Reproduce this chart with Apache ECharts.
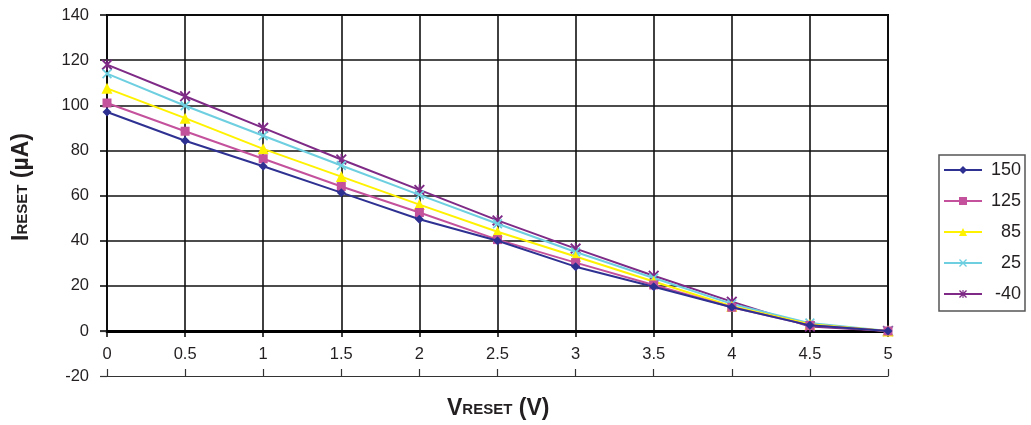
<!DOCTYPE html>
<html>
<head>
<meta charset="utf-8">
<script src="https://cdn.jsdelivr.net/npm/echarts@6/dist/echarts.min.js"></script>
<style>
  html, body { margin: 0; padding: 0; background: #fff; }
  #chart { width: 1031px; height: 425px; }
</style>
</head>
<body>
<div id="chart"></div>
<script>
// ---- data ----
const vReset = [0, 0.5, 1, 1.5, 2, 2.5, 3, 3.5, 4, 4.5, 5];
const seriesNames = ['150', '125', '85', '25', '-40'];
const i150 = [97, 84.3, 73, 61.3, 49.5, 40, 28.5, 19.6, 10.5, 2.5, 0];
const i125 = [101, 88.5, 76.3, 64, 52.5, 40.5, 30.3, 20.4, 10.5, 2.5, 0];
const i85 = [107.5, 94.3, 80.7, 68.4, 56, 44, 33, 21.9, 11, 3, 0];
const i25 = [114, 99.8, 86.5, 73.3, 60.3, 47.5, 35, 23.5, 12, 3.5, 0];
const iM40 = [118, 104, 90, 76, 62.5, 49, 36.5, 24.5, 13, 2, 0];
const seriesValues = [i150, i125, i85, i25, iM40];
const yTicksTop = [0, 140, 20];
const yTicksBottom = [-20, 0, 20];

// ---- styles ----
const FONT = 'Arial, "Liberation Sans", sans-serif';
const TXT = '#231f20';
const colors = ['#2e3192', '#c4519c', '#fff200', '#6dcfe0', '#7e2a86'];
const X_PATH = 'path://M0,1.2 L1.2,0 L5,3.8 L8.8,0 L10,1.2 L6.2,5 L10,8.8 L8.8,10 L5,6.2 L1.2,10 L0,8.8 L3.8,5 Z';
const AST_PATH = 'path://M0,1.2 L1.2,0 L5,3.8 L8.8,0 L10,1.2 L6.2,5 L10,8.8 L8.8,10 L5,6.2 L1.2,10 L0,8.8 L3.8,5 Z M4.3,0 L5.7,0 L5.7,10 L4.3,10 Z';
const symbols = ['diamond', 'rect', 'triangle', X_PATH, AST_PATH];
const symSizes = [9, 9, 11, 10, 11];

function pairs(vals) { return vReset.map((x, i) => [x, vals[i]]); }

const chart = echarts.init(document.getElementById('chart'), null, { renderer: 'canvas' });

const titleRich = {
  b: { fontSize: 23, fontWeight: 'bold', fontFamily: FONT, fill: TXT },
  s: { fontSize: 15, fontWeight: 'bold', fontFamily: FONT, fill: TXT, padding: [0, 0, -3, 0] }
};

const option = {
  animation: false,
  backgroundColor: '#fff',
  textStyle: { fontFamily: FONT },
  grid: [
    { left: 107, right: 143, top: 15, height: 316, show: true, borderColor: '#000', borderWidth: 2, backgroundColor: 'transparent' },
    { left: 107, right: 143, top: 331, height: 45, show: false }
  ],
  xAxis: [
    {
      type: 'value', gridIndex: 0, min: 0, max: 5, interval: 0.5,
      axisLine: { show: true, onZero: false, lineStyle: { color: '#000', width: 3 } },
      axisTick: { show: true, inside: false, length: 6, lineStyle: { color: '#000', width: 1.5 } },
      axisLabel: { show: true, margin: 15, fontSize: 16.5, color: TXT, fontFamily: FONT },
      splitLine: { show: true, lineStyle: { color: '#111', width: 1.6 } }
    },
    {
      type: 'value', gridIndex: 1, min: 0, max: 5, interval: 0.5, position: 'bottom',
      axisLine: { show: true, onZero: false, lineStyle: { color: '#333', width: 1.2 } },
      axisTick: { show: true, inside: true, length: 7, lineStyle: { color: '#333', width: 1.2 } },
      axisLabel: { show: false },
      splitLine: { show: false }
    }
  ],
  yAxis: [
    {
      type: 'value', gridIndex: 0, min: yTicksTop[0], max: yTicksTop[1], interval: yTicksTop[2],
      axisLine: { show: false },
      axisTick: { show: true, length: 7, lineStyle: { color: '#000', width: 1.5 } },
      axisLabel: { show: true, margin: 18, fontSize: 16.5, color: TXT, fontFamily: FONT },
      splitLine: { show: true, lineStyle: { color: '#111', width: 1.6 } }
    },
    {
      type: 'value', gridIndex: 1, min: yTicksBottom[0], max: yTicksBottom[1], interval: yTicksBottom[2],
      axisLine: { show: false },
      axisTick: { show: true, length: 7, lineStyle: { color: '#333', width: 1.2 } },
      axisLabel: { show: true, margin: 18, fontSize: 16.5, color: TXT, fontFamily: FONT,
        formatter: v => (v === yTicksBottom[0] ? String(v) : '') },
      splitLine: { show: false }
    }
  ],
  legend: {
    orient: 'vertical',
    left: 939, top: 155,
    itemWidth: 38, itemHeight: 10, itemGap: 13,
    borderColor: '#555', borderWidth: 1.5, borderRadius: 0,
    padding: [6, 4, 8, 4],
    data: seriesNames,
    textStyle: { fontFamily: FONT, fontSize: 18, color: TXT,
      rich: { a: { width: 34, align: 'right', fontSize: 18, color: TXT, fontFamily: FONT } } },
    formatter: name => '{a|' + name + '}'
  },
  graphic: [
    {
      type: 'text', left: 447, top: 397,
      style: { text: '{b|V}{s|RESET}{b| (V)}', rich: titleRich }
    },
    {
      type: 'text', x: 10, y: 241, rotation: Math.PI / 2,
      style: { text: '{b|I}{s|RESET}{b| (µA)}', rich: titleRich }
    }
  ],
  series: seriesNames.map((name, k) => ({
    name: name,
    type: 'line',
    xAxisIndex: 0, yAxisIndex: 0,
    data: pairs(seriesValues[k]),
    symbol: symbols[k],
    symbolSize: symSizes[k],
    showAllSymbol: true,
    lineStyle: { color: colors[k], width: 2 },
    itemStyle: { color: colors[k] },
    z: 10 - k
  }))
};

chart.setOption(option);
</script>
</body>
</html>
